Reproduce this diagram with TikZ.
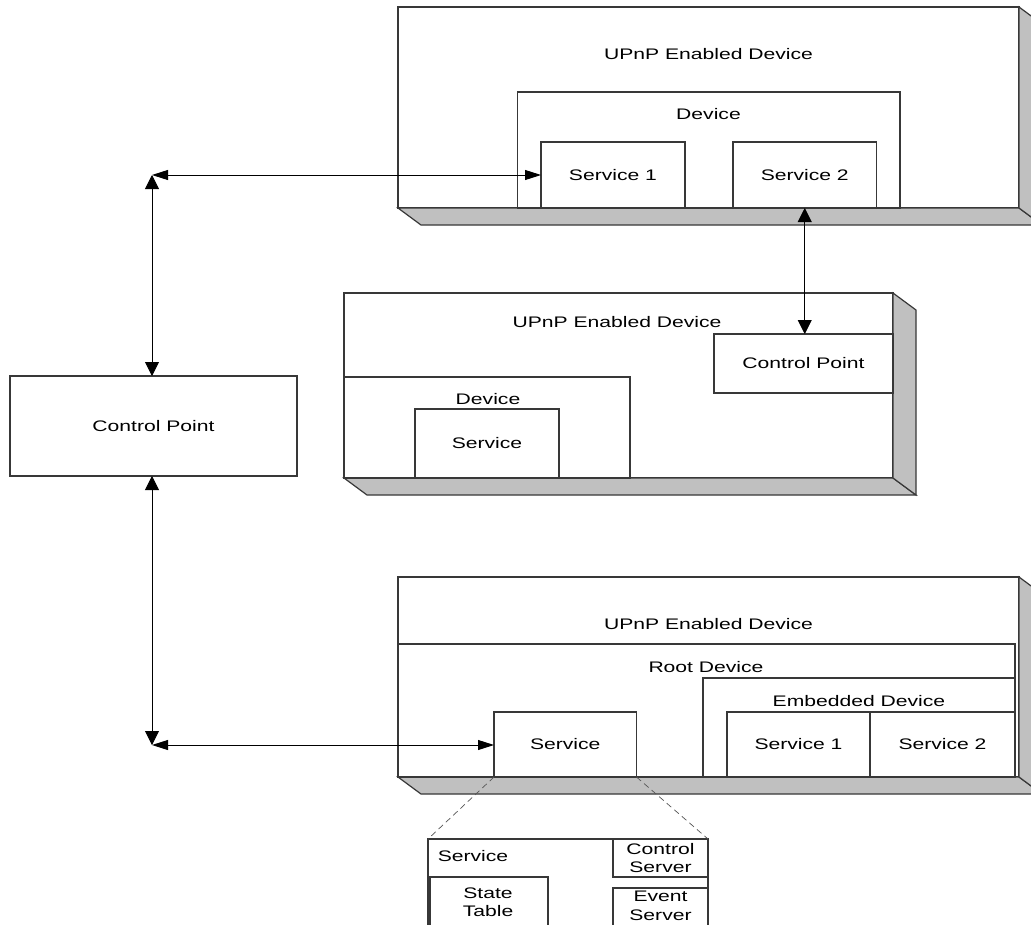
\documentclass[tikz,border=0pt]{standalone}
\usepackage{fontspec}
\newfontfamily\diagramfont{Liberation Sans}[FakeStretch=1.38]
\usetikzlibrary{arrows.meta}

\definecolor{edgegray}{HTML}{383838}
\definecolor{slabgray}{HTML}{C0C0C0}
\definecolor{dashgray}{HTML}{555555}

\tikzset{
  frame/.style={draw=edgegray, line width=1.2pt, fill=white, inner sep=0pt,
    outer sep=0pt, anchor=north west, align=center,
    font=\diagramfont\fontsize{15.3}{18.5}\selectfont},
  caption/.style={inner sep=0pt, align=center,
    font=\diagramfont\fontsize{15.3}{18.5}\selectfont},
  slab/.style={draw=edgegray, line width=1.2pt, fill=slabgray},
  link/.style={draw=black, line width=0.9pt},
  hlink/.style={link, {Triangle[length=16pt,width=10pt]}-{Triangle[length=16pt,width=10pt]}},
  vlink/.style={link, {Triangle[length=14pt,width=14pt]}-{Triangle[length=14pt,width=14pt]}},
  zoomline/.style={draw=dashgray, line width=0.7pt, dash pattern=on 6pt off 4pt},
}

% grey bottom and right faces that give a box its depth
\newcommand\boxslab[1]{%
  \draw[slab] (#1.south west) -- (#1.south east) -- ([shift={(23,17)}]#1.south east)
    -- ([shift={(23,17)}]#1.south west) -- cycle;
  \draw[slab] (#1.north east) -- ([shift={(23,17)}]#1.north east)
    -- ([shift={(23,17)}]#1.south east) -- (#1.south east) -- cycle;}

\begin{document}
\begin{tikzpicture}[x=1pt, y=-1pt]
\clip (0,0) rectangle (1031,924);
\fill[white] (0,0) rectangle (1031,924);

% ---- upper device -------------------------------------------------------
\node[frame, minimum width=621pt, minimum height=201pt] (up1) at (398,7) {};
\boxslab{up1}
\node[frame, minimum width=382.5pt, minimum height=116pt] (dev1) at (517.5,92) {};
\node[frame, minimum width=144pt, minimum height=66pt] (svc1a) at (541,142) {Service 1};
\node[frame, minimum width=143.5pt, minimum height=66pt] (svc1b) at (733,142) {Service 2};
\node[caption] (up1t) at (708.5,54) {UPnP Enabled Device};
\node[caption] (dev1t) at (708.5,114) {Device};

% ---- middle device ------------------------------------------------------
\node[frame, minimum width=549pt, minimum height=185pt] (up2) at (344,293) {};
\boxslab{up2}
\node[frame, minimum width=286pt, minimum height=101pt] (dev2) at (344,377) {};
\node[frame, minimum width=144pt, minimum height=69pt] (svc2) at (415,409) {Service};
\node[frame, minimum width=179pt, minimum height=59pt] (cp2) at (714,334) {Control Point};
\node[caption] (up2t) at (617,322) {UPnP Enabled Device};
\node[caption] (dev2t) at (488,399) {Device};

% ---- lower device -------------------------------------------------------
\node[frame, minimum width=621pt, minimum height=200pt] (up3) at (398,577) {};
\boxslab{up3}
\node[frame, minimum width=617pt, minimum height=133pt] (root) at (398,644) {};
\node[frame, minimum width=312pt, minimum height=99pt] (emb) at (703,678) {};
\node[frame, minimum width=143pt, minimum height=65pt] (esv1) at (727,712) {Service 1};
\node[frame, minimum width=145pt, minimum height=65pt] (esv2) at (870,712) {Service 2};
\node[frame, minimum width=142.5pt, minimum height=65pt] (svc3) at (494,712) {Service};
\node[caption] (up3t) at (708.5,624) {UPnP Enabled Device};
\node[caption] (roott) at (706,667) {Root Device};
\node[caption] (embt) at (859,701) {Embedded Device};

% ---- service detail -----------------------------------------------------
\node[frame, minimum width=280pt, minimum height=110pt] (detail) at (428,839) {};
\node[frame, minimum width=95pt, minimum height=38pt] (ctrl) at (613,839) {Control\\Server};
\node[frame, minimum width=95pt, minimum height=60pt] (evt) at (613,888) {};
\node[frame, minimum width=118pt, minimum height=70pt] (state) at (430,877) {};
\node[caption] (detailt) at (473,856) {Service};
\node[caption] (statet) at (488,902) {State\\Table};
\node[caption] (evtt) at (660.5,906) {Event\\Server};

\draw[zoomline] (svc3.south west) -- (detail.north west);
\draw[zoomline] (svc3.south east) -- (detail.north east);

% ---- stand-alone control point -----------------------------------------
\node[frame, minimum width=287pt, minimum height=100pt] (cp) at (10,376) {Control Point};

% ---- connections --------------------------------------------------------
\coordinate (hubA) at (152,175);
\coordinate (hubB) at (152,745);
\draw[hlink] (hubA) -- (hubA -| svc1a.west);
\draw[vlink] (hubA) -- (hubA |- cp.north);
\draw[vlink] (hubB |- cp.south) -- (hubB);
\draw[hlink] (hubB) -- (hubB -| svc3.west);
\draw[vlink] (svc1b.south) -- (svc1b.south |- cp2.north);
\end{tikzpicture}
\end{document}
